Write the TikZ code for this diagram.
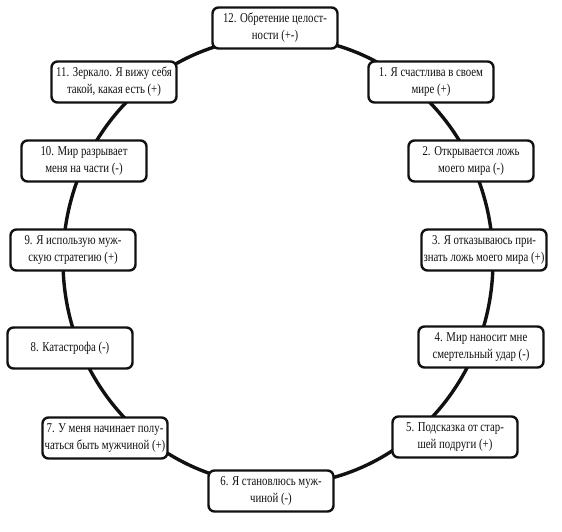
\documentclass[tikz,border=0pt]{standalone}
\usepackage{fontspec}
\setmainfont{Liberation Serif}[FakeStretch=0.8]
\usepackage{tikz}
\usepackage{xcolor}
\definecolor{ink}{HTML}{111111}
\tikzset{
  stage/.style={rectangle,rounded corners=6pt,draw=ink,fill=white,text=ink,
    minimum width=125pt,minimum height=41pt,inner sep=2pt,align=center,
    font=\fontsize{13.5}{17}\selectfont,line width=2.4pt},
  cycle/.style={line width=3.4pt,color=ink},
}
\begin{document}
\begin{tikzpicture}[x=1pt,y=1pt]
  \useasboundingbox (0,0) rectangle (562,532);
  \coordinate (c) at (278,271);
  \draw[cycle] (c) ellipse (215 and 224);
  \node[stage] (n12) at (275,504){12. Обретение целост-\\ности (+-)};
  \node[stage] (n11) at (114,450){11. Зеркало. Я вижу себя\\такой, какая есть (+)};
  \node[stage] (n1) at (431,450){1. Я счастлива в своем\\мире (+)};
  \node[stage] (n10) at (84,371){10. Мир разрывает\\меня на части (-)};
  \node[stage] (n2) at (471,371){2. Открывается ложь\\моего мира (-)};
  \node[stage] (n9) at (73,282){9. Я использую муж-\\скую стратегию (+)};
  \node[stage] (n3) at (484,282){3. Я отказываюсь при-\\знать ложь моего мира (+)};
  \node[stage] (n8) at (70,184){8. Катастрофа (-)};
  \node[stage] (n4) at (481,185){4. Мир наносит мне\\смертельный удар (-)};
  \node[stage] (n7) at (105,94){7. У меня начинает полу-\\чаться быть мужчиной (+)};
  \node[stage] (n5) at (455,95){5. Подсказка от стар-\\шей подруги (+)};
  \node[stage] (n6) at (271,41){6. Я становлюсь муж-\\чиной (-)};
\end{tikzpicture}
\end{document}
